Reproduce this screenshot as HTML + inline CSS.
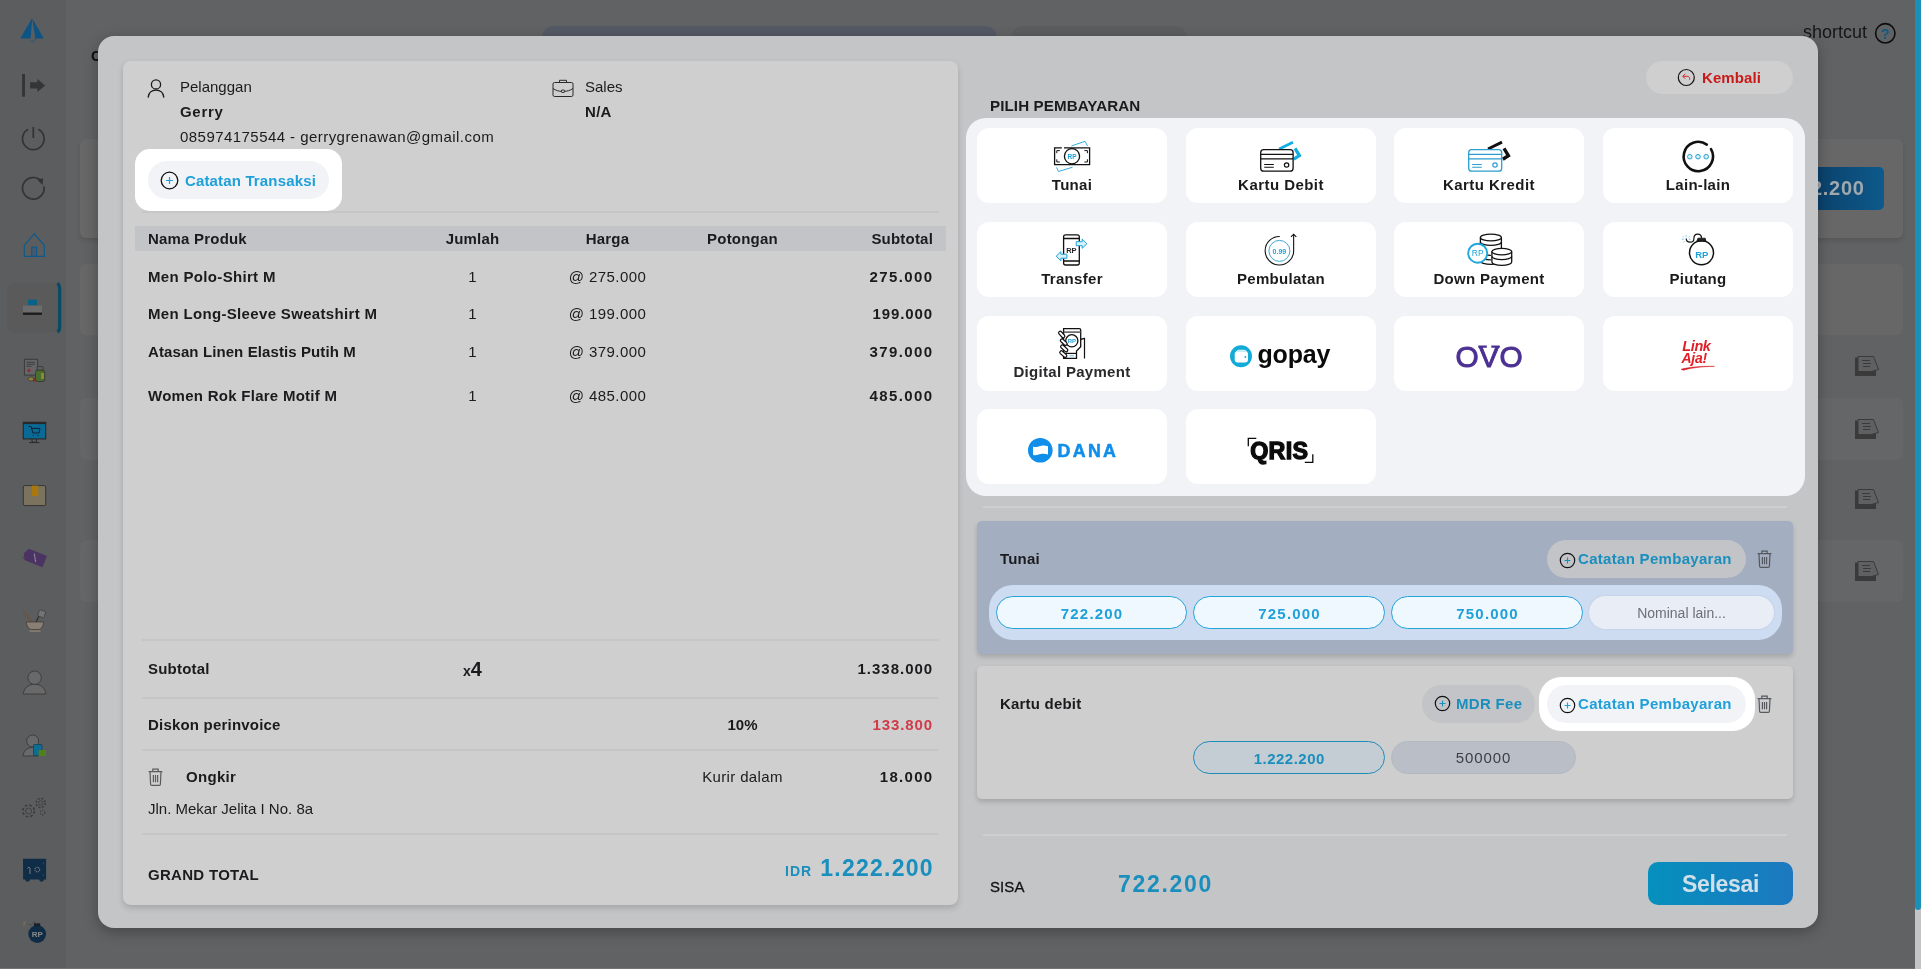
<!DOCTYPE html>
<html lang="id">
<head>
<meta charset="utf-8">
<title>Pembayaran</title>
<style>
*{box-sizing:border-box;margin:0;padding:0}
html,body{width:1921px;height:969px;overflow:hidden}
body{background:#616264;font-family:"Liberation Sans",sans-serif;font-size:15px;color:#1b1b1d;position:relative}
#root{position:absolute;left:0;top:0;width:1921px;height:969px;will-change:transform}
.a{position:absolute}
.b{font-weight:bold}
.c{text-align:center}
.r{text-align:right}
.t{position:absolute;white-space:nowrap;line-height:20px;height:20px}
svg{position:absolute;overflow:visible}
/* page behind */
#side{left:0;top:0;width:66px;height:969px;background:#5c5d5f}
#sb-track{left:1915px;top:0;width:6px;height:969px;background:#c4c4c4}
#sb-thumb{left:1914.700px;top:-10px;width:6.300px;height:920px;background:#1a90b8;border-radius:3px}
.bgp{background:#676767;border-radius:6px}
/* modal */
#modal{left:98px;top:36px;width:1720px;height:892px;background:#c4c5c7;border-radius:16px;box-shadow:0 4px 14px rgba(0,0,0,.28)}
#lcard{left:123px;top:61px;width:835px;height:844px;background:#cfcfcf;border-radius:8px;box-shadow:0 3px 6px rgba(0,0,0,.16)}
.hl{background:#fff}
.pill{border-radius:19px;background:#f1f3f7}
.hr{height:2px;background:#c5c6c8}
.hr2{height:2px;background:#cfcfd0}
.blue{color:#1fa0d8}
.dblue{color:#1a8fbd}
#thead{left:135px;top:226px;width:811px;height:25px;background:#c3c4c8}
.pc{background:#fff;border-radius:12px;width:190px;height:75px}
.pc .t{left:0;width:190px;text-align:center;top:47px;font-weight:bold;letter-spacing:.3px}
.np{height:33px;border-radius:17px;border:1.5px solid #22a3d9;background:#eff8fe;color:#1fa0d8;font-weight:bold;text-align:center;line-height:33.500px;font-size:15px;letter-spacing:1.2px;padding-left:1.2px}
</style>
</head>
<body>
<div id="root">
<!-- ===== page behind modal ===== -->
<div class="a" id="side"></div>
<div class="a" style="left:542px;top:26px;width:455px;height:20px;background:#535965;border-radius:12px 12px 0 0"></div>
<div class="a" style="left:1011px;top:26px;width:176px;height:20px;background:#5c5d5f;border-radius:12px 12px 0 0"></div>
<div class="t b" style="left:91px;top:46px;font-size:14.500px;color:#0d0d0f">C</div>
<div class="a bgp" style="left:80px;top:139px;width:1823px;height:99px;box-shadow:0 3px 5px rgba(0,0,0,.12)"></div>
<div class="a bgp" style="left:80px;top:264px;width:1823px;height:71px"></div>
<div class="a bgp" style="left:80px;top:398px;width:1823px;height:62px;background:#656667"></div>
<div class="a bgp" style="left:80px;top:540px;width:1823px;height:62px;background:#656667"></div>
<div class="a" style="left:1780px;top:167px;width:104px;height:43px;border-radius:5px;background:linear-gradient(90deg,#0b3f68 30%,#0d5a8c)"></div>
<div class="t b" style="left:1811px;top:178px;font-size:20px;letter-spacing:.7px;color:#a0a8ae">2.200</div>
<div class="t" style="left:1803px;top:22px;font-size:18px;color:#161616">shortcut</div>
<!-- SIDEBAR-ICONS -->
<svg style="left:0;top:0" width="66" height="969" viewBox="0 0 66 969" fill="none">
<!-- logo -->
<path d="M31.900 18.300L20.300 38.400h10.300L32 21z" fill="#0d5484"/><path d="M32.200 18.300l11.600 20.100h-8.500L32.600 21z" fill="#0d5484"/>
<path d="M35.500 38.300c-.5 2-2.300 3.400-4.300 3.500l-1-1.200" stroke="#0d5484" stroke-width=".8"/>
<!-- collapse arrow -->
<rect x="22.100" y="74" width="2.900" height="22.700" fill="#353535"/>
<path d="M30.100 82.200h7.300v-3.100l7.700 6.450-7.700 6.450v-3.600h-7.300z" fill="#353535"/>
<!-- power -->
<path d="M28.200 129.300a10.800 10.800 0 1 0 10.200 0M33.300 127v11" stroke="#343434" stroke-width="1.700"/>
<!-- refresh -->
<path d="M41.500 181.300a10.800 10.800 0 1 0 2.400 5" stroke="#343434" stroke-width="1.700"/><path d="M37 179.500l6.200-1.200-.6 6.600z" fill="#343434"/>
<!-- home -->
<path d="M24.300 245.300l10-11.500 10 11.500v11.100h-20z" stroke="#0c5a8c" stroke-width="1.100"/><rect x="31.700" y="247.200" width="5" height="9.200" stroke="#0c5a8c" stroke-width="1.100" fill="#46586a"/>
<!-- active item -->
<rect x="7" y="283" width="53" height="49.500" rx="7" fill="#5a5a5b"/>
<path d="M57.500 283.300c1.800 1.400 2.200 3.200 2.200 6v37c0 2.800-.4 4.600-2.200 6" stroke="#074b66" stroke-width="3.200"/>
<rect x="27.900" y="299.700" width="9" height="5.600" fill="#066287"/><rect x="23" y="305.600" width="19" height="6.800" fill="#6c6c6c"/><rect x="23" y="312.600" width="19" height="2.300" fill="#1c1c1c"/>
<!-- medical -->
<path d="M24.400 359.300h13.200v13l-3 2.800H24.400z" fill="#646567" stroke="#303030" stroke-width=".8"/><path d="M26.500 362.300h8.500M26.500 364.300h8.500M26.500 366.300h5" stroke="#3c3c3c" stroke-width=".9"/><path d="M29 368.800v3.400M27.300 370.500h3.400" stroke="#8b2a3a" stroke-width="1.300"/>
<rect x="37" y="366.600" width="6" height="3.600" rx=".8" fill="#606060" stroke="#2e2e2e" stroke-width=".7"/><rect x="35.500" y="370.300" width="9.200" height="11.200" rx="2" fill="#4a6e2c" stroke="#2e2e2e" stroke-width=".7"/><rect x="41" y="373" width="3" height="6" fill="#8a8a3a"/>
<ellipse cx="31" cy="379" rx="3" ry="2" fill="#8a8238" stroke="#2e2e2e" stroke-width=".6"/><circle cx="34.700" cy="380" r="1.700" fill="#7a2a36"/>
<!-- monitor cart -->
<rect x="23.300" y="422.300" width="22.400" height="16.600" fill="#0a6a96" stroke="#272727" stroke-width="1.100"/><path d="M23.300 423.300h22.400" stroke="#272727" stroke-width="1.600"/>
<path d="M29 426.500h2.200l1.600 6.500h6.200l1-4.600h-8M33.300 435.500v.1M38 435.500v.1" stroke="#102030" stroke-width="1" stroke-linecap="round"/>
<path d="M32 439v3.200h4.500V439M29 442.600h10.500" stroke="#272727" stroke-width=".9"/>
<!-- box -->
<rect x="23.300" y="485.600" width="22.400" height="20" rx="1.500" fill="#7b735e" stroke="#2f2f2f" stroke-width=".9"/><rect x="32" y="485.600" width="6.300" height="10.500" fill="#a8780f"/>
<!-- tag -->
<g transform="rotate(22 34.500 557.500)"><path d="M26 551.500h19.500v12H26l-3-6z" fill="#4b3463"/><path d="M33 554l4 7M33.300 555.300v.1M36.800 559.800v.1" stroke="#8f8a96" stroke-width="1" stroke-linecap="round"/></g>
<path d="M24.500 556c-1.500.5-2 2-1 3.200" stroke="#3a3a3a" stroke-width=".6"/>
<!-- mortar -->
<path d="M23.600 611l7.600 11" stroke="#6b5540" stroke-width="1.800" stroke-linecap="round"/><path d="M36 622l3.500-7" stroke="#2f2f2f" stroke-width="1.300"/><rect x="38.500" y="610.500" width="6.500" height="6.500" rx="1" transform="rotate(18 41.700 613.700)" fill="#747474" stroke="#3a3a3a" stroke-width=".6"/>
<path d="M26.400 622h17.200c0 4-2.500 7-5 7.500h-7.200c-2.500-.5-5-3.500-5-7.500z" fill="#8a7f73" stroke="#3a3632" stroke-width=".7"/><path d="M29.500 631h11" stroke="#8a7f73" stroke-width="1.600"/>
<!-- user -->
<path d="M23.200 694c.8-6 5.400-9.800 11.400-9.800s10.600 3.800 11.400 9.800z" fill="#696969" stroke="#3a3a3a" stroke-width=".9"/><circle cx="34.600" cy="677.700" r="6.700" fill="#696969" stroke="#3a3a3a" stroke-width=".9"/>
<!-- user bag -->
<path d="M23 756c.5-5 4-8.500 9.500-8.500 2.500 0 4 1 5 2v6.500z" fill="#696969" stroke="#3a3a3a" stroke-width=".9"/><circle cx="32.700" cy="741" r="6" fill="#696969" stroke="#3a3a3a" stroke-width=".9"/>
<rect x="33.500" y="744.500" width="8.500" height="11" rx="1" fill="#0a6e96" stroke="#173a4a" stroke-width=".7"/><rect x="38.500" y="750" width="7.500" height="6" rx="1" fill="#4f7f1f"/>
<!-- gears -->
<circle cx="28.600" cy="811" r="5.800" stroke="#3c3c3c" stroke-width="1.600" stroke-dasharray="2.600 1.960"/><circle cx="28.600" cy="811" r="3" stroke="#3c3c3c" stroke-width=".8"/>
<circle cx="40.700" cy="803" r="4.500" stroke="#3c3c3c" stroke-width="1.500" stroke-dasharray="2 1.530"/><circle cx="40.700" cy="803" r="2.200" stroke="#3c3c3c" stroke-width=".8"/>
<circle cx="42.500" cy="812.500" r="2.300" stroke="#3c3c3c" stroke-width="1.200" stroke-dasharray="1.200 1.200"/>
<!-- safe -->
<path d="M23 858.800h23.100v20.700h-2l-1 2h-3l-1-2h-9l-1 2h-3l-1-2h-2z" fill="#102d48"/><path d="M30 874v-5.500c0-1.600-2.400-1.600-2.400 0" stroke="#7d7d7d" stroke-width="1"/><circle cx="37.300" cy="869.600" r="2.300" stroke="#7d7d7d" stroke-width="1.200" stroke-dasharray="1 .8"/><path d="M43.300 863v.2M43.300 875v.2" stroke="#2a4560" stroke-width="1.400" stroke-linecap="round"/>
<!-- bomb -->
<circle cx="37.200" cy="934" r="8.900" fill="#0f2c47"/><rect x="34" y="923.300" width="6.200" height="3" fill="#16202c"/><path d="M36.500 923.500c0-2-3-2.500-4 0-.8 2-3.500 2-4.500 0" stroke="#4a4a4a" stroke-width=".8"/><path d="M23 922l2 2M25 921v2M23 925h2" stroke="#8a7a40" stroke-width=".7"/>
<text x="37.200" y="937" text-anchor="middle" font-family="Liberation Sans,sans-serif" font-weight="bold" font-size="8" fill="#8a8a8a">RP</text>
</svg>
<!-- /SIDEBAR-ICONS -->
<!-- BG-ICONS -->
<svg style="left:1876px;top:20px" width="24" height="24" viewBox="0 0 24 24" fill="none"><circle cx="9.300" cy="13.300" r="9.700" stroke="#0c0c0c" stroke-width="1.600"/><text x="9.300" y="18.500" text-anchor="middle" font-family="Liberation Sans,sans-serif" font-weight="bold" font-size="14" fill="#105a80">?</text></svg>
<svg style="left:1850px;top:350px" width="40" height="240" viewBox="0 0 40 240" fill="none">
<g id="noteic"><path d="M5 7.500h17.500l3.500 13.500v5H5z" fill="#3a3a3a"/><path d="M8 6.500h15.500l5 13-7 2H8z" fill="#5f6062" stroke="#3a3a3a" stroke-width="1"/><path d="M12 10.500h8M13 13.500h8M13 16.500h7" stroke="#3a3a3a" stroke-width="1.200"/></g>
<use href="#noteic" y="63"/><use href="#noteic" y="133"/><use href="#noteic" y="205"/></svg>
<!-- /BG-ICONS -->
<div class="a" style="left:0;top:968px;width:1915px;height:1px;background:#707173"></div>
<div class="a" id="sb-track"></div>
<div class="a" id="sb-thumb"></div>

<!-- ===== modal ===== -->
<div class="a" id="modal"></div>
<div class="a" id="lcard"></div>

<!-- LEFT-CARD -->
<!-- customer header -->
<svg style="left:146px;top:77px" width="20" height="22" viewBox="0 0 20 22" fill="none" stroke="#1b1b1d" stroke-width="1.3"><circle cx="10" cy="7.4" r="4.6"/><path d="M2.2 20.2c.6-4.6 3.8-7 7.8-7s7.200 2.400 7.800 7" stroke-linecap="round"/></svg>
<div class="t" style="left:180px;top:77px">Pelanggan</div>
<div class="t b" style="left:180px;top:102px;letter-spacing:.7px">Gerry</div>
<div class="t" style="left:180px;top:127px;letter-spacing:.45px">085974175544 - gerrygrenawan@gmail.com</div>
<svg style="left:552px;top:78px" width="22" height="20" viewBox="0 0 22 20" fill="none" stroke="#2a2a2c" stroke-width="1"><rect x="1" y="4.500" width="20" height="14" rx="1.500"/><path d="M7.500 4.500v-2.200h7v2.200M1 10.500c3 2.200 6.500 2.800 8.500 2.800M21 10.500c-3 2.200-6.500 2.800-8.500 2.800"/><rect x="9.500" y="12" width="3" height="2.400" rx=".6"/></svg>
<div class="t" style="left:585px;top:77px">Sales</div>
<div class="t b" style="left:585px;top:102px;letter-spacing:.3px">N/A</div>
<!-- highlighted note button -->
<div class="a hl" style="left:135px;top:149px;width:207px;height:62px;border-radius:15px"></div>
<div class="a pill" style="left:148px;top:161px;width:181px;height:38px"></div>
<svg style="left:160px;top:171px" width="19" height="19" viewBox="0 0 19 19" fill="none"><circle cx="9.500" cy="9.500" r="8.300" stroke="#111" stroke-width="1.300"/><path d="M9.500 6v7M6 9.500h7" stroke="#1fa0d8" stroke-width="1.200"/></svg>
<div class="t b blue" style="left:185px;top:171px;letter-spacing:.15px">Catatan Transaksi</div>
<div class="a hr" style="left:142px;top:211px;width:797px"></div>
<!-- table -->
<div class="a" id="thead"></div>
<div class="t b" style="left:148px;top:229px;letter-spacing:.2px">Nama Produk</div>
<div class="t b c" style="left:405px;width:135px;top:229px;letter-spacing:.2px">Jumlah</div>
<div class="t b c" style="left:540px;width:135px;top:229px;letter-spacing:.2px">Harga</div>
<div class="t b c" style="left:675px;width:135px;top:229px;letter-spacing:.2px">Potongan</div>
<div class="t b r" style="left:798px;width:135px;top:229px;letter-spacing:.2px">Subtotal</div>

<div class="t b" style="left:148px;top:267px;letter-spacing:.33px">Men Polo-Shirt M</div>
<div class="t c" style="left:405px;width:135px;top:267px">1</div>
<div class="t c" style="left:540px;width:135px;top:267px;letter-spacing:.45px">@ 275.000</div>
<div class="t b r" style="left:798.6px;width:135px;top:267px;letter-spacing:1.4px">275.000</div>

<div class="t b" style="left:148px;top:304px;letter-spacing:.33px">Men Long-Sleeve Sweatshirt M</div>
<div class="t c" style="left:405px;width:135px;top:304px">1</div>
<div class="t c" style="left:540px;width:135px;top:304px;letter-spacing:.45px">@ 199.000</div>
<div class="t b r" style="left:798.1px;width:135px;top:304px;letter-spacing:0.9px">199.000</div>

<div class="t b" style="left:148px;top:342px;letter-spacing:.1px">Atasan Linen Elastis Putih M</div>
<div class="t c" style="left:405px;width:135px;top:342px">1</div>
<div class="t c" style="left:540px;width:135px;top:342px;letter-spacing:.45px">@ 379.000</div>
<div class="t b r" style="left:798.6px;width:135px;top:342px;letter-spacing:1.4px">379.000</div>

<div class="t b" style="left:148px;top:386px;letter-spacing:.27px">Women Rok Flare Motif M</div>
<div class="t c" style="left:405px;width:135px;top:386px">1</div>
<div class="t c" style="left:540px;width:135px;top:386px;letter-spacing:.45px">@ 485.000</div>
<div class="t b r" style="left:798.6px;width:135px;top:386px;letter-spacing:1.4px">485.000</div>

<!-- summary -->
<div class="a hr" style="left:142px;top:639px;width:797px"></div>
<div class="t b" style="left:148px;top:659px;letter-spacing:.2px">Subtotal</div>
<div class="t b c" style="left:405px;width:135px;top:659px"><span style="font-size:14px">x</span><span style="font-size:20px">4</span></div>
<div class="t b r" style="left:798.200px;width:135px;top:659px;letter-spacing:1px">1.338.000</div>
<div class="a hr" style="left:142px;top:697px;width:797px"></div>
<div class="t b" style="left:148px;top:715px;letter-spacing:.2px">Diskon perinvoice</div>
<div class="t b c" style="left:675px;width:135px;top:715px">10%</div>
<div class="t b r" style="left:798.100px;width:135px;top:715px;letter-spacing:.9px;color:#d23a48">133.800</div>
<div class="a hr" style="left:142px;top:749px;width:797px"></div>
<svg style="left:148px;top:768px" width="15" height="18" viewBox="0 0 15 18" fill="none" stroke="#5b5b5d" stroke-width="1.200"><path d="M.6 3.600h13.800M4.800 3.400V1.200h5.400v2.200M2 3.800l.6 12.400c0 .7.500 1.200 1.200 1.200h7.400c.7 0 1.200-.5 1.200-1.200L13 3.800M5.400 7v7.200M7.500 7v7.200M9.600 7v7.200"/></svg>
<div class="t b" style="left:186px;top:767px;letter-spacing:.3px">Ongkir</div>
<div class="t c" style="left:675px;width:135px;top:767px;letter-spacing:.35px">Kurir dalam</div>
<div class="t b r" style="left:798.500px;width:135px;top:767px;letter-spacing:1.3px">18.000</div>
<div class="t" style="left:148px;top:799px">Jln. Mekar Jelita I No. 8a</div>
<div class="a hr" style="left:142px;top:833px;width:797px"></div>
<div class="t b" style="left:148px;top:865px;letter-spacing:.3px">GRAND TOTAL</div>
<div class="t b dblue" style="left:785px;top:861px;font-size:14px;letter-spacing:1px">IDR</div>
<div class="t b dblue r" style="left:733.900px;width:200px;top:854px;height:28px;line-height:28px;font-size:23px;letter-spacing:1.250px">1.222.200</div>
<!-- /LEFT-CARD -->

<!-- RIGHT-PANEL -->
<!-- Kembali -->
<div class="a" style="left:1646px;top:61px;width:147px;height:33px;border-radius:17px;background:#cfcfd0"></div>
<svg style="left:1677px;top:68px" width="19" height="19" viewBox="0 0 19 19" fill="none"><circle cx="9.300" cy="9.500" r="8" stroke="#111" stroke-width="1.200"/><path d="M5.800 8.300h4.400c1.600 0 2.500 1 2.500 2.300v1.200M8.300 5.800L5.800 8.300l2.500 2.500" stroke="#cf2a2a" stroke-width="1"/></svg>
<div class="t b" style="left:1702px;top:68px;color:#c91a1a;letter-spacing:.1px">Kembali</div>
<div class="t b" style="left:990px;top:96px;letter-spacing:.1px;transform:scaleX(1.01);transform-origin:0 0">PILIH PEMBAYARAN</div>
<!-- highlighted payment grid -->
<div class="a" style="left:966px;top:118px;width:839px;height:378px;border-radius:20px;background:#f1f3f7"></div>
<div class="a pc" style="left:977px;top:128px"><div class="t">Tunai</div></div>
<div class="a pc" style="left:1186px;top:128px"><div class="t" style="letter-spacing:.45px">Kartu Debit</div></div>
<div class="a pc" style="left:1394px;top:128px"><div class="t" style="letter-spacing:.45px">Kartu Kredit</div></div>
<div class="a pc" style="left:1603px;top:128px"><div class="t">Lain-lain</div></div>
<div class="a pc" style="left:977px;top:222px"><div class="t">Transfer</div></div>
<div class="a pc" style="left:1186px;top:222px"><div class="t">Pembulatan</div></div>
<div class="a pc" style="left:1394px;top:222px"><div class="t">Down Payment</div></div>
<div class="a pc" style="left:1603px;top:222px"><div class="t">Piutang</div></div>
<div class="a pc" style="left:977px;top:316px"><div class="t" style="top:46px;color:#2a2a2c">Digital Payment</div></div>
<div class="a pc" style="left:1186px;top:316px"></div>
<div class="a pc" style="left:1394px;top:316px"></div>
<div class="a pc" style="left:1603px;top:316px"></div>
<div class="a pc" style="left:977px;top:409px"></div>
<div class="a pc" style="left:1186px;top:409px"></div>
<!-- PAY-ICONS -->
<!-- Tunai -->
<svg style="left:1040px;top:136px" width="64" height="40" viewBox="0 0 64 40" fill="none">
<path d="M31.400 10l13.600-4.700 2.500 4.700M16.500 31.400l2.100 4.100 14-4.300" stroke="#1fa0d8" stroke-width=".9"/>
<path d="M21.800 11.800H14.600v16.900h35V11.800H24" stroke="#111" stroke-width="1.300" fill="#fff"/>
<circle cx="32" cy="20.250" r="7.600" stroke="#111" stroke-width="1.300" fill="#fff"/>
<path d="M16.800 17.200v-2.600h3M47.400 17.200v-2.600h-3M16.800 23.300v2.700h3M47.400 23.300v2.700h-3" stroke="#111" stroke-width="1"/>
<text x="32" y="22.600" text-anchor="middle" font-family="Liberation Sans,sans-serif" font-weight="bold" font-size="6.500" fill="#1fa0d8">RP</text></svg>
<!-- Kartu Debit -->
<svg style="left:1249px;top:136px" width="64" height="40" viewBox="0 0 64 40" fill="none">
<path d="M30.200 13l13.800-6.800" stroke="#12aee0" stroke-width="2.800"/><path d="M46 12.400l4.400 7.200-5.600 3.600" stroke="#12aee0" stroke-width="3.300"/>
<rect x="11.700" y="13.700" width="32.400" height="21.500" rx="3" fill="#fff" stroke="#111" stroke-width="1.300"/>
<path d="M11.700 18.400h32.400M11.700 22.900h32.400" stroke="#111" stroke-width="1.300"/>
<path d="M15.200 28.500h9.600M15.200 31.300h9.600" stroke="#111" stroke-width="1.100"/>
<circle cx="37.600" cy="29" r="2.200" stroke="#111" stroke-width="1.200"/></svg>
<!-- Kartu Kredit -->
<svg style="left:1457px;top:136px" width="64" height="40" viewBox="0 0 64 40" fill="none">
<path d="M31 13l14-6.800" stroke="#111" stroke-width="3"/><path d="M47 12.400l4.400 7.200-5.600 3.600" stroke="#111" stroke-width="3.400"/>
<rect x="11.700" y="13.700" width="33" height="21.500" rx="3" fill="#fff" stroke="#2a9fd0" stroke-width="1.300"/>
<path d="M11.700 18.400h33M11.700 22.900h33" stroke="#2a9fd0" stroke-width="1.300"/>
<path d="M15.200 28.500h9.600M15.200 31.300h9.600" stroke="#2a9fd0" stroke-width="1.100"/>
<circle cx="38" cy="29" r="2.200" stroke="#2a9fd0" stroke-width="1.200"/></svg>
<!-- Lain-lain -->
<svg style="left:1666px;top:136px" width="64" height="40" viewBox="0 0 64 40" fill="none">
<path d="M40.800 8.600A14.650 14.650 0 1 0 45 13.200" stroke="#111" stroke-width="2.600" stroke-linecap="round"/>
<circle cx="23.800" cy="20.700" r="2.300" stroke="#2a9fd0" stroke-width="1" fill="#cfeffb"/><circle cx="32" cy="20.700" r="2.300" stroke="#2a9fd0" stroke-width="1" fill="#cfeffb"/><circle cx="40.200" cy="20.700" r="2.300" stroke="#2a9fd0" stroke-width="1" fill="#cfeffb"/></svg>
<!-- Transfer -->
<svg style="left:1040px;top:228px" width="64" height="40" viewBox="0 0 64 40" fill="none">
<rect x="23.600" y="6.800" width="15.700" height="30.200" rx="2" fill="#fff" stroke="#111" stroke-width="1.300"/>
<path d="M23.600 10.500h15.700M23.600 33h15.700" stroke="#111" stroke-width="1.300"/>
<text x="31.400" y="24.800" text-anchor="middle" font-family="Liberation Sans,sans-serif" font-weight="bold" font-size="7.500" fill="#222">RP</text>
<path d="M36.200 13.700h6v-2.600l4.700 4.600-4.700 4.600v-2.600h-6z" fill="#d6f3fd" stroke="#1fa0d8" stroke-width="1"/>
<path d="M26.900 26.200h-6v-2.600l-4.700 4.600 4.700 4.600v-2.600h6z" fill="#d6f3fd" stroke="#1fa0d8" stroke-width="1"/></svg>
<!-- Pembulatan -->
<svg style="left:1249px;top:228px" width="64" height="40" viewBox="0 0 64 40" fill="none">
<circle cx="30.400" cy="22.900" r="10.500" stroke="#2a9fd0" stroke-width=".9" fill="#fff"/>
<path d="M30.800 8.500A14.250 14.250 0 1 0 44.650 22.900V6.400M42 8.900l2.650-2.700 2.650 2.700" stroke="#111" stroke-width="1.100"/>
<text x="30.400" y="25.600" text-anchor="middle" font-family="Liberation Sans,sans-serif" font-weight="bold" font-size="7" fill="#1fa0d8">0.99</text></svg>
<!-- Down Payment -->
<svg style="left:1457px;top:228px" width="64" height="40" viewBox="0 0 64 40" fill="none" stroke="#111" stroke-width="1.300">
<path d="M23.400 9.500v23.400c0 1.900 4.700 3.400 10.500 3.400s10.500-1.500 10.500-3.400V9.500" fill="#fff"/>
<ellipse cx="33.900" cy="9.500" rx="10.500" ry="3.400" fill="#fff"/>
<path d="M23.400 14c0 1.900 4.700 3.400 10.500 3.400S44.400 15.900 44.400 14M23.400 28.500c0 1.900 4.700 3.400 10.500 3.400M23.400 24c0 1.900 4.700 3.400 10.500 3.400"/>
<path d="M34.900 23.600v10.300c0 1.900 4.400 3.400 9.900 3.400s9.900-1.500 9.900-3.400V23.600" fill="#fff"/>
<ellipse cx="44.800" cy="23.600" rx="9.900" ry="3.300" fill="#fff"/>
<path d="M34.900 28.200c0 1.900 4.400 3.400 9.900 3.400s9.900-1.500 9.900-3.400"/>
<circle cx="20.700" cy="25.200" r="9.500" stroke="#1fa6db" stroke-width="1.900" fill="#fff"/>
<text x="20.700" y="28.300" text-anchor="middle" font-family="Liberation Sans,sans-serif" font-size="8.500" fill="#1fa0d8" stroke="none">RP</text></svg>
<!-- Piutang -->
<svg style="left:1666px;top:228px" width="64" height="40" viewBox="0 0 64 40" fill="none">
<circle cx="35.500" cy="24.800" r="12" stroke="#111" stroke-width="1.500" fill="#fff"/>
<path d="M30.800 13.200l1.200-3h7.200l.8 3z" fill="#222" stroke="#111" stroke-width=".8"/>
<path d="M35.500 10.200c0-2.600-1.700-4-3.800-4-2.300 0-3.800 1.600-3.800 4.200 0 2.300-1.600 3.800-3.800 3.800-2.300 0-3.900-1.500-3.900-3.600" stroke="#111" stroke-width="1.200"/>
<path d="M20.200 8.700V7.300M17.900 9.400l-1-1M22.600 9.400l1-1M17.600 11.200h-1.600M22.900 11.200h1.600M18.400 13.400l-1 1" stroke="#2a9fd0" stroke-width=".7"/>
<text x="35.800" y="29.700" text-anchor="middle" font-family="Liberation Sans,sans-serif" font-weight="bold" font-size="9.500" fill="#1fa0d8">RP</text></svg>
<!-- Digital Payment -->
<svg style="left:1040px;top:322px" width="64" height="40" viewBox="0 0 64 40" fill="none">
<path d="M23.600 36.300V6.600h15.600c.9 0 1.500.6 1.500 1.500v16.700l-4.200 4.200v7.300z" fill="#fff" stroke="#111" stroke-width="1.300"/>
<path d="M23.600 10.100h17" stroke="#555" stroke-width="1.500"/>
<path d="M25 31.400h11.500" stroke="#111" stroke-width="1.200"/>
<path d="M29.500 33.800h4.500" stroke="#4db8e0" stroke-width=".9"/>
<path d="M40.800 17.300c1.500 0 1.700-1 3.700-1V36.600" stroke="#111" stroke-width="1.200"/>
<circle cx="31.800" cy="18.800" r="6.100" stroke="#111" stroke-width="1.300" fill="#fff"/>
<text x="31.800" y="21" text-anchor="middle" font-family="Liberation Sans,sans-serif" font-weight="bold" font-size="6" fill="#1fa0d8">RP</text>
<g stroke-linecap="round"><path d="M20.200 10.800l3 3.400M22 18.600l3.500 3.200M22.200 24.600l4 3.600M21.400 30.400l3.800 3.400" stroke="#111" stroke-width="4.400"/><path d="M20.200 10.800l3 3.400M22 18.600l3.500 3.200M22.200 24.600l4 3.600M21.400 30.400l3.800 3.400" stroke="#fff" stroke-width="2"/></g></svg>
<!-- gopay -->
<svg style="left:1217px;top:334px" width="128" height="40" viewBox="0 0 128 40" fill="none">
<circle cx="24" cy="22.300" r="11" fill="#12aad6"/>
<rect x="17.700" y="17.300" width="13.300" height="11.200" rx="3" fill="#fff"/>
<path d="M19.500 18.200c0-1.300 1-1.900 2.300-1.900h5.400c1.400 0 2.200.7 2.200 1.900" stroke="#fff" stroke-width="1"/>
<circle cx="28.300" cy="23" r=".9" fill="#12aad6"/>
<text x="40.500" y="28.800" font-family="Liberation Sans,sans-serif" font-weight="bold" font-size="25" letter-spacing="-.2" fill="#0a0a0a">gopay</text></svg>
<!-- OVO -->
<svg style="left:1425px;top:334px" width="128" height="40" viewBox="0 0 128 40" fill="none">
<text x="64.300" y="32.500" text-anchor="middle" font-family="Liberation Sans,sans-serif" font-size="29.800" letter-spacing=".5" fill="#4c2f92" stroke="#4c2f92" stroke-width=".9">OVO</text>
<path d="M53.300 12.700h8.500M66.300 12.700h8.500" stroke="#4c2f92" stroke-width="2.200"/></svg>
<!-- LinkAja -->
<svg style="left:1666px;top:330px" width="64" height="50" viewBox="0 0 64 50" fill="none">
<text x="16.300" y="21.400" font-family="Liberation Sans,sans-serif" font-weight="bold" font-style="italic" font-size="14.500" letter-spacing="-.4" fill="#e01f26">Link</text>
<text x="15.500" y="32.700" font-family="Liberation Sans,sans-serif" font-weight="bold" font-style="italic" font-size="14" letter-spacing="-.3" fill="#e01f26">Aja!</text>
<path d="M15 39.300c7-2 18-3.200 33.500-3-13 .4-24 1.600-31 4z" fill="#d81f26" stroke="#d81f26" stroke-width=".5"/></svg>
<!-- DANA -->
<svg style="left:1008px;top:428px" width="128" height="40" viewBox="0 0 128 40" fill="none">
<circle cx="32.300" cy="22.300" r="12.300" fill="#108ee9"/>
<path d="M25 18.600c3 1.300 5-.2 7.500-.7s5-.5 7.500.3v8.200c-2.500-.8-5-.8-7.500-.3s-4.500 2-7.500.7z" fill="#fff"/>
<text x="49.600" y="28.700" font-family="Liberation Sans,sans-serif" font-weight="bold" font-size="17.800" letter-spacing="2.300" fill="#108ee9" stroke="#108ee9" stroke-width=".5">DANA</text></svg>
<!-- QRIS -->
<svg style="left:1217px;top:428px" width="128" height="40" viewBox="0 0 128 40" fill="none">
<path d="M31.300 18.300V10.300h8M95.800 26.300v8h-8" stroke="#0b0b0b" stroke-width="1.300"/>
<text x="33.200" y="30.700" font-family="Liberation Sans,sans-serif" font-weight="bold" font-size="23.300" letter-spacing=".3" fill="#0b0b0b" stroke="#0b0b0b" stroke-width="1.300">QRIS</text></svg>
<!-- /PAY-ICONS -->
<div class="a hr2" style="left:983px;top:506px;width:804px"></div>
<!-- Tunai section -->
<div class="a" style="left:977px;top:521px;width:816px;height:133px;border-radius:5px;background:#a3aec1;box-shadow:0 3px 5px rgba(0,0,0,.16)"></div>
<div class="t b" style="left:1000px;top:549px;letter-spacing:.2px">Tunai</div>
<div class="a" style="left:1547px;top:540px;width:199px;height:38px;border-radius:19px;background:#c3c4c8"></div>
<svg style="left:1559px;top:552px" width="17" height="17" viewBox="0 0 17 17" fill="none"><circle cx="8.500" cy="8.500" r="7.200" stroke="#111" stroke-width="1.200"/><path d="M8.500 5.500v6M5.500 8.500h6" stroke="#1a8fbd" stroke-width="1.100"/></svg>
<div class="t b dblue" style="left:1578px;top:549px;letter-spacing:.3px">Catatan Pembayaran</div>
<svg class="trash" style="left:1757.300px;top:550px" width="15" height="18" viewBox="0 0 15 18" fill="none" stroke="#55585e" stroke-width="1.200"><path d="M.6 3.600h13.800M4.800 3.400V1.200h5.400v2.200M2 3.800l.6 12.400c0 .7.500 1.200 1.200 1.200h7.400c.7 0 1.200-.5 1.200-1.200L13 3.800M5.400 7v7.200M7.500 7v7.200M9.600 7v7.200"/></svg>
<div class="a" style="left:989px;top:585px;width:793px;height:55px;border-radius:24px;background:#cddcf1"></div>
<div class="a np" style="left:996px;top:596px;width:191px">722.200</div>
<div class="a np" style="left:1193px;top:596px;width:192px">725.000</div>
<div class="a np" style="left:1391px;top:596px;width:192px">750.000</div>
<div class="a" style="left:1589px;top:596px;width:185px;height:33px;border-radius:17px;background:#e9edf5;color:#6d7075;text-align:center;line-height:35px;font-size:14px;box-shadow:0 0 3px rgba(0,0,0,.08)">Nominal lain...</div>
<!-- Kartu debit section -->
<div class="a" style="left:977px;top:666px;width:816px;height:133px;border-radius:5px;background:#cececf;box-shadow:0 3px 5px rgba(0,0,0,.16)"></div>
<div class="t b" style="left:1000px;top:694px;letter-spacing:.2px">Kartu debit</div>
<div class="a" style="left:1422px;top:685px;width:113px;height:38px;border-radius:19px;background:#c3c4c8"></div>
<svg style="left:1434px;top:695px" width="17" height="17" viewBox="0 0 17 17" fill="none"><circle cx="8.500" cy="8.500" r="7.200" stroke="#111" stroke-width="1.200"/><path d="M8.500 5.500v6M5.500 8.500h6" stroke="#1a8fbd" stroke-width="1.100"/></svg>
<div class="t b dblue" style="left:1456px;top:694px;letter-spacing:.3px">MDR Fee</div>
<div class="a hl" style="left:1539px;top:677px;width:215.500px;height:54px;border-radius:22px"></div>
<div class="a pill" style="left:1547px;top:685px;width:199px;height:38px"></div>
<svg style="left:1559px;top:697px" width="17" height="17" viewBox="0 0 17 17" fill="none"><circle cx="8.500" cy="8.500" r="7.200" stroke="#111" stroke-width="1.200"/><path d="M8.500 5.500v6M5.500 8.500h6" stroke="#1fa0d8" stroke-width="1.100"/></svg>
<div class="t b blue" style="left:1578px;top:694px;letter-spacing:.3px">Catatan Pembayaran</div>
<svg class="trash" style="left:1757.300px;top:695px" width="15" height="18" viewBox="0 0 15 18" fill="none" stroke="#55585e" stroke-width="1.200"><path d="M.6 3.600h13.800M4.800 3.400V1.200h5.400v2.200M2 3.800l.6 12.400c0 .7.500 1.200 1.200 1.200h7.400c.7 0 1.200-.5 1.200-1.200L13 3.800M5.400 7v7.200M7.500 7v7.200M9.600 7v7.200"/></svg>
<div class="a np" style="left:1193px;top:741px;width:192px;background:#c4ccd4;border-color:#1d8cb8;color:#1a8fbd;letter-spacing:.5px;padding-left:.5px">1.222.200</div>
<div class="a" style="left:1391px;top:741px;width:185px;height:33px;border-radius:17px;background:#b9bec7;color:#3c3e42;text-align:center;line-height:32px;letter-spacing:.9px;border:1px solid #b3b8c1">500000</div>
<div class="a hr2" style="left:983px;top:834px;width:804px"></div>
<div class="t" style="left:990px;top:877px;letter-spacing:.1px;color:#111;-webkit-text-stroke:.3px #111">SISA</div>
<div class="t b dblue" style="left:1118px;top:870px;height:28px;line-height:28px;font-size:23px;letter-spacing:1.700px">722.200</div>
<div class="a b c" style="left:1648px;top:862px;width:145px;height:43px;border-radius:10px;background:linear-gradient(90deg,#0590bd,#1d78c0);color:#cfe0ea;font-size:23px;line-height:45px;letter-spacing:-.3px">Selesai</div>
<!-- /RIGHT-PANEL -->

</div>
</body>
</html>
